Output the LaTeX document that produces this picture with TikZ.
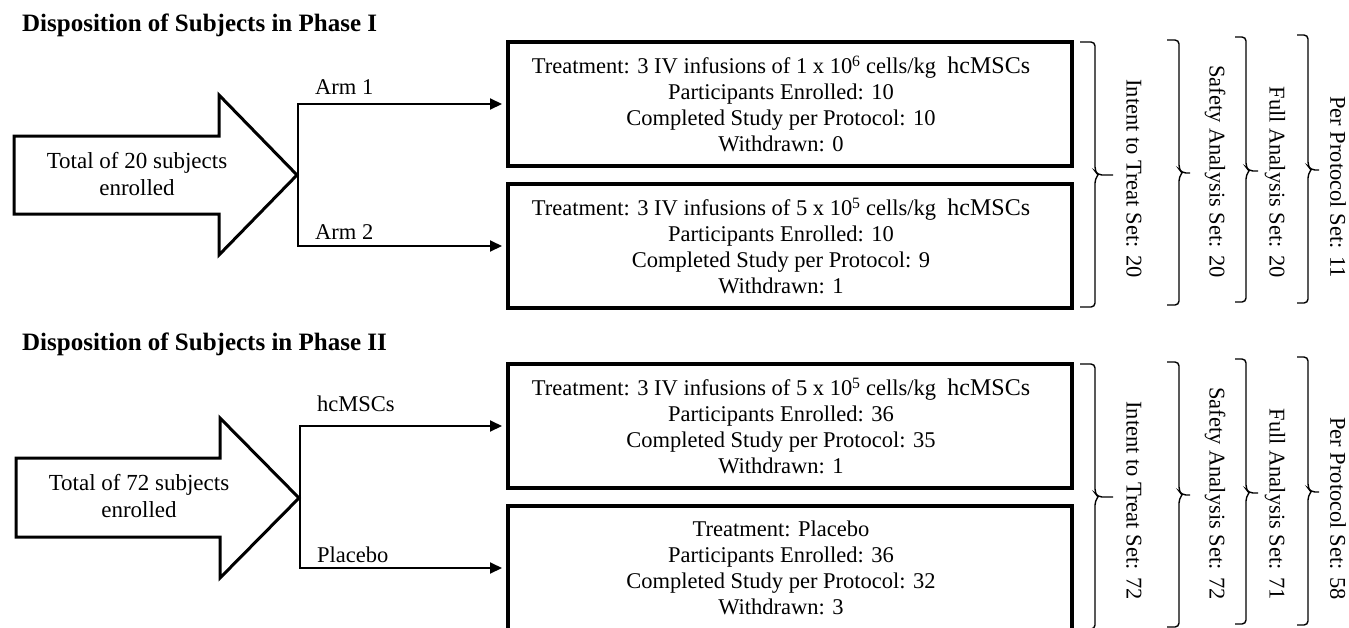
\documentclass[tikz,border=0pt]{standalone}
\usepackage{fontspec}
\setmainfont{Liberation Serif}
\usetikzlibrary{arrows.meta}

\begin{document}
\begin{tikzpicture}[x=1pt,y=-1pt,
        every node/.style={font=\fontsize{22.5}{26}\selectfont,inner sep=0pt},
        heading/.style={anchor=west,font=\fontsize{25}{30}\selectfont\bfseries},
        total/.style={align=center,font=\fontsize{23}{27}\selectfont},
        armlabel/.style={anchor=west},
        bigarrow/.style={draw,line width=3pt,line join=miter},
        armbox/.style={draw,line width=4pt,minimum width=564pt,minimum height=124pt},
        boxtext/.style={align=center,xshift=-9pt},
        link/.style={line width=2pt,shorten >=4pt,-{Triangle[length=12pt,width=11pt]}},
        setbracket/.style={line width=1.4pt,rounded corners=4pt},
        setlabel/.style={rotate=-90,anchor=east}]

            \useasboundingbox (0,0) rectangle (1349,627);
            %\draw [help lines,step=50] (0,0) grid (1349,627);

            % Phase I
            \draw[bigarrow] (14,136) -- (219,136) -- (219,95) -- (297,175)
                            -- (219,255) -- (219,214) -- (14,214) -- cycle;
            \coordinate (tip1) at (298,175);

            \path   (22,25) node (title1) [heading] {Disposition of Subjects in Phase I}
                    (137,174) node (total1) [total] {Total of 20 subjects\\enrolled}
                    (315,87) node (arm1) [armlabel] {Arm 1}
                    (315,232) node (arm2) [armlabel] {Arm 2}
                    (790,104) node (box1) [armbox,label={[boxtext]center:{Treatment: 3 IV infusions of 1 x 10\textsuperscript{6} cells/kg\ \ {\fontsize{24}{26}\selectfont hcMSCs}\\Participants Enrolled: 10\\Completed Study per Protocol: 10\\Withdrawn: 0}}] {}
                    (790,246) node (box2) [armbox,label={[boxtext]center:{Treatment: 3 IV infusions of 5 x 10\textsuperscript{5} cells/kg\ \ {\fontsize{24}{26}\selectfont hcMSCs}\\Participants Enrolled: 10\\Completed Study per Protocol: 9\\Withdrawn: 1}}] {}
                    (1134,278) node (itt1) [setlabel] {Intent to Treat Set: 20}
                    (1215,278) node (saf1) [setlabel] {Safety Analysis Set: 20}
                    (1275,278) node (fas1) [setlabel] {Full Analysis Set: 20}
                    (1338,278) node (pps1) [setlabel] {Per Protocol Set: 11};

            \draw[link] (tip1) |- (node cs:name=box1,anchor=west);
            \draw[link] (tip1) |- (node cs:name=box2,anchor=west);

            % brackets: x, hook, tip end, top, middle, bottom
            \foreach \x/\h/\e/\t/\m/\b in {1080/15/33/42/175/307, 1167/12/23/40/173/305,
                                           1235/11/23/37/171/302, 1297/11/22/35/170/303}
                \draw[setbracket] (\x,\t) -- (\x+\h,\t) -- (\x+\h,\m-4) -- (\x+\h+3,\m) -- (\x+\e,\m)
                                  (\x+\h+3,\m) -- (\x+\h,\m+4) -- (\x+\h,\b) -- (\x,\b);

            % Phase II
            \draw[bigarrow] (16,458) -- (220,458) -- (220,418) -- (299,498)
                            -- (220,578) -- (220,537) -- (16,537) -- cycle;
            \coordinate (tip2) at (300,498);

            \path   (22,344) node (title2) [heading] {Disposition of Subjects in Phase II}
                    (139,496) node (total2) [total] {Total of 72 subjects\\enrolled}
                    (317,404) node (arm3) [armlabel] {hcMSCs}
                    (317,555) node (arm4) [armlabel] {Placebo}
                    (790,426) node (box3) [armbox,label={[boxtext]center:{Treatment: 3 IV infusions of 5 x 10\textsuperscript{5} cells/kg\ \ {\fontsize{24}{26}\selectfont hcMSCs}\\Participants Enrolled: 36\\Completed Study per Protocol: 35\\Withdrawn: 1}}] {}
                    (790,568) node (box4) [armbox,label={[boxtext]center:{Treatment: Placebo\\Participants Enrolled: 36\\Completed Study per Protocol: 32\\Withdrawn: 3}}] {}
                    (1134,600) node (itt2) [setlabel] {Intent to Treat Set: 72}
                    (1215,600) node (saf2) [setlabel] {Safety Analysis Set: 72}
                    (1275,600) node (fas2) [setlabel] {Full Analysis Set: 71}
                    (1338,600) node (pps2) [setlabel] {Per Protocol Set: 58};

            \draw[link] (tip2) |- (node cs:name=box3,anchor=west);
            \draw[link] (tip2) |- (node cs:name=box4,anchor=west);

            \foreach \x/\h/\e/\t/\m/\b in {1080/15/33/364/497/629, 1167/12/23/362/495/627,
                                           1235/11/23/359/493/624, 1297/11/22/357/492/625}
                \draw[setbracket] (\x,\t) -- (\x+\h,\t) -- (\x+\h,\m-4) -- (\x+\h+3,\m) -- (\x+\e,\m)
                                  (\x+\h+3,\m) -- (\x+\h,\m+4) -- (\x+\h,\b) -- (\x,\b);
        \end{tikzpicture}
\end{document}
